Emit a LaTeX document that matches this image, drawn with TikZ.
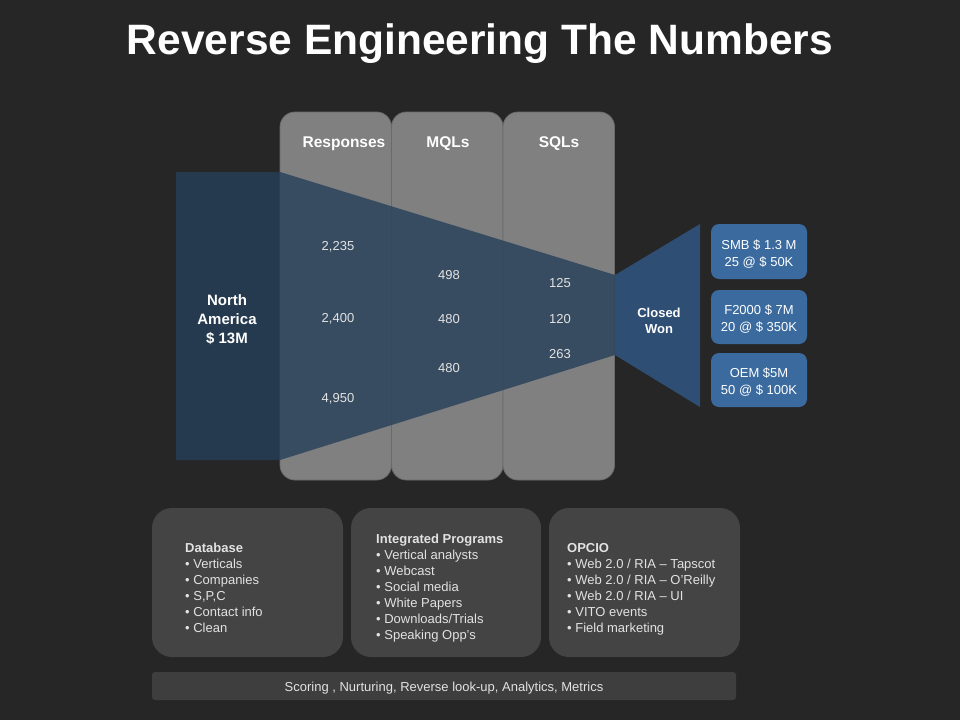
\documentclass[tikz,border=0pt]{standalone}
\usepackage{fontspec}
\setmainfont{Liberation Sans}
\usetikzlibrary{positioning}

\definecolor{bgdark}{HTML}{262626}
\definecolor{colgray}{HTML}{808080}
\definecolor{colline}{HTML}{6A6A6A}
\definecolor{funnelblue}{HTML}{27405A}
\definecolor{wonblue}{HTML}{2E4F73}
\definecolor{dealblue}{HTML}{3A6A9E}
\definecolor{panelgray}{HTML}{444444}
\definecolor{bargray}{HTML}{3E3E3E}
\definecolor{softwhite}{HTML}{E2E2E2}

\tikzset{
    column/.style={fill=colgray, draw=colline, line width=0.8pt, rounded corners=15pt},
    colhead/.style={text=white, font=\fontsize{15.5}{18}\selectfont\bfseries},
    count/.style={text=softwhite, font=\fontsize{13}{15}\selectfont},
    dealbox/.style={fill=dealblue, rounded corners=8pt},
    dealtext/.style={text=white, font=\fontsize{13}{17}\selectfont, align=center},
    panel/.style={fill=panelgray, rounded corners=20pt},
    paneltext/.style={text=softwhite, font=\fontsize{13}{16}\selectfont, align=left, anchor=north west, inner sep=0pt},
}

\begin{document}
\begin{tikzpicture}[x=1pt, y=-1pt]
        \def\colw{111.5}
        \def\coltop{112}
        \def\colbot{480}
        \def\fx{280}
        \def\ex{615}

        \fill[bgdark] (0,0) rectangle (960,720);
        \useasboundingbox (0,0) rectangle (960,720);

        \node[text=white, font=\fontsize{42.5}{48}\selectfont\bfseries] (title) at (480,44) {Reverse Engineering The Numbers};

        % Columns
        \foreach \i/\name/\lab/\cx in {0/resp/Responses/344, 1/mql/MQLs/448, 2/sql/SQLs/559} {
            \draw[column] (\fx+\i*\colw,\coltop) rectangle (\fx+\i*\colw+\colw,\colbot);
            \node[colhead] (\name) at (\cx,144) {\lab};
        }

        % Funnel
        \fill[funnelblue, opacity=0.8] (176,172) -- (\fx,172) -- (\ex,275) -- (\ex,355) -- (\fx,460) -- (176,460) -- cycle;
        \fill[wonblue] (\ex,275) -- (700,224) -- (700,407) -- (\ex,355) -- cycle;

        \node[text=white, font=\fontsize{15}{19}\selectfont\bfseries, align=center] (region) at (227,320) {North\\America\\\$ 13M};
        \node[text=white, font=\fontsize{13}{16}\selectfont\bfseries, align=center] (won) at (659,321) {Closed\\Won};

        \node[count] (r1) at (338,247) {2,235};
        \node[count] (r2) at (338,319) {2,400};
        \node[count] (r3) at (338,399) {4,950};
        \node[count] (m1) at (449,275) {498};
        \node[count] (m2) at (449,319) {480};
        \node[count] (m3) at (449,368) {480};
        \node[count] (s1) at (560,283) {125};
        \node[count] (s2) at (560,319) {120};
        \node[count] (s3) at (560,354) {263};

        % Deals
        \fill[dealbox] (711,224) rectangle (807,279);
        \fill[dealbox] (711,290) rectangle (807,344);
        \fill[dealbox] (711,353) rectangle (807,407);
        \node[dealtext] (smb) at (759,254) {SMB \$ 1.3 M\\25 @ \$ 50K};
        \node[dealtext] (f2k) at (759,319) {F2000 \$ 7M\\20 @ \$ 350K};
        \node[dealtext] (oem) at (759,382) {OEM \$5M\\50 @ \$ 100K};

        % Programs
        \fill[panel] (152,508) rectangle (343,657);
        \fill[panel] (351,508) rectangle (541,657);
        \fill[panel] (549,508) rectangle (740,657);
        \node[paneltext] (db) at (185,543) {\textbf{Database}\\\textbullet\ Verticals\\\textbullet\ Companies\\\textbullet\ S,P,C\\\textbullet\ Contact info\\\textbullet\ Clean};
        \node[paneltext] (ip) at (376,534) {\textbf{Integrated Programs}\\\textbullet\ Vertical analysts\\\textbullet\ Webcast\\\textbullet\ Social media\\\textbullet\ White Papers\\\textbullet\ Downloads/Trials\\\textbullet\ Speaking Opp’s};
        \node[paneltext] (opc) at (567,543) {\textbf{OPCIO}\\\textbullet\ Web 2.0 / RIA – Tapscot\\\textbullet\ Web 2.0 / RIA – O’Reilly\\\textbullet\ Web 2.0 / RIA – UI\\\textbullet\ VITO events\\\textbullet\ Field marketing};

        \fill[bargray, rounded corners=3pt] (152,672) rectangle (736,700);
        \node[text=softwhite, font=\fontsize{13}{16}\selectfont] (tools) at (444,688) {Scoring , Nurturing, Reverse look-up, Analytics, Metrics};
    \end{tikzpicture}
\end{document}
